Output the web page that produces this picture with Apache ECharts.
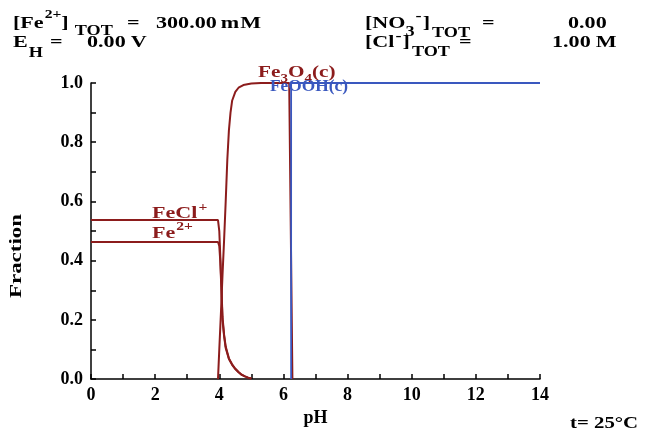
<!DOCTYPE html>
<html><head><meta charset="utf-8">
<script src="https://cdn.jsdelivr.net/npm/echarts@6/dist/echarts.min.js"></script>
<style>html,body{margin:0;padding:0;background:#fff}#c{width:645px;height:432px}</style>
</head><body><div id="c"></div>
<script>
// ---- data ----
const xTickLabels = [0, 2, 4, 6, 8, 10, 12, 14];
const yTickLabels = [0.0, 0.2, 0.4, 0.6, 0.8, 1.0];

const aqPH  = [0, 3.96, 4.0, 4.03, 4.06, 4.1, 4.15, 4.2, 4.3, 4.4, 4.5, 4.6, 4.7, 4.8, 4.9, 5.0];
const feClFrac = [0.537, 0.537, 0.50, 0.42, 0.33, 0.21, 0.15, 0.11, 0.07, 0.05, 0.035, 0.024, 0.015, 0.009, 0.005, 0.002];
const fe2Frac  = [0.463, 0.463, 0.45, 0.40, 0.32, 0.20, 0.145, 0.105, 0.068, 0.048, 0.034, 0.023, 0.014, 0.009, 0.005, 0.002];

const magPH   = [3.96, 4.0, 4.05, 4.1, 4.15, 4.2, 4.25, 4.3, 4.35, 4.4, 4.5, 4.6, 4.75, 5.0, 5.3, 6.18, 6.28];
const magFrac = [0, 0.10, 0.22, 0.35, 0.47, 0.60, 0.74, 0.84, 0.90, 0.94, 0.970, 0.984, 0.993, 0.998, 1.0, 1.0, 0];

const goePH   = [6.24, 6.24, 14];
const goeFrac = [0, 1, 1];

// ---- styling ----
const RED = '#8c1c1c', BLUE = '#3a58bf', FONT = '"Liberation Serif", "Times New Roman", serif';
const ctx = document.createElement('canvas').getContext('2d');
function tw(t, s) { ctx.font = 'bold ' + s + 'px "Liberation Serif"'; return ctx.measureText(t).width; }
function txt(t, x, y, s, color, sx, extra) {
  return Object.assign({
    type: 'text', x: x, y: y, scaleX: sx, z: 100,
    style: { text: t, fontSize: s, fontFamily: FONT, fontWeight: 'bold', fill: color,
             align: 'left', verticalAlign: 'middle', textAlign: 'left', textVerticalAlign: 'middle' }
  }, extra || {});
}
// pieces: [text, size, centerY, x(optional absolute), gap]
function run(pieces, x0, color, sx) {
  let cx = x0; const out = [];
  pieces.forEach(p => {
    const [t, s, cy, ax, gap] = p;
    if (ax != null) cx = ax; else cx += (gap || 0);
    out.push(txt(t, cx, cy, s, color, sx));
    cx += tw(t, s) * sx;
  });
  return out;
}
const SX = 1.3;
let g = [];
// header left
g = g.concat(run([
  ['[Fe', 17, 23.5], ['2+', 12, 14.5, null, 1], [']', 17, 23.5, null, 0], ['TOT', 14, 31.5, null, 6],
  ['=', 17, 23.5, 127], ['300.00', 17, 23.5, 156], ['m', 17, 23.5, null, 4], ['M', 17, 23.5, null, 1]
], 13, '#000', SX));
g = g.concat(run([
  ['E', 17, 42.5], ['H', 14, 53, null, 1], ['=', 17, 42.5, 50], ['0.00', 17, 42.5, 87], ['V', 17, 42.5, null, 5]
], 13, '#000', SX));
// header right
g = g.concat(run([
  ['[NO', 17, 24], ['3', 14, 32, null, 0], ['-', 14, 16, null, 1], [']', 17, 24, null, 1], ['TOT', 14, 33, null, 2],
  ['=', 17, 24, 482], ['0.00', 17, 24, 568]
], 365, '#000', SX));
g = g.concat(run([
  ['[Cl', 17, 42.5], ['-', 14, 36, null, 1], [']', 17, 42.5, null, 1], ['TOT', 14, 52, null, 2],
  ['=', 17, 42.5, 459], ['1.00', 17, 42.5, 552], ['M', 17, 42.5, null, 5]
], 365, '#000', SX));
// species labels
g = g.concat(run([['Fe', 17, 72.5], ['3', 12, 79, null, 0], ['O', 17, 72.5, null, 0], ['4', 12, 79, null, 0], ['(c)', 17, 72.5, null, 0]], 258, RED, 1.25));
g = g.concat(run([['FeOOH(c)', 17, 87]], 270, BLUE, 1.02));
g = g.concat(run([['FeCl', 17, 214], ['+', 12, 208, null, 1]], 152, RED, 1.3));
g = g.concat(run([['Fe', 17, 234], ['2+', 12, 227, null, 1]], 152, RED, 1.3));
// footer and y title
g.push(txt('t= 25°C', 570, 424, 16, '#000', SX));
g.push(txt('Fraction', 17, 256, 17, '#000', 1.35, { rotation: Math.PI / 2 }));
g[g.length - 1].style.align = 'center'; g[g.length - 1].style.textAlign = 'center';

const pairs = (xs, ys) => xs.map((x, i) => [x, ys[i]]);
const axisText = { fontFamily: FONT, fontWeight: 'bold', fontSize: 18, color: '#000' };
const chart = echarts.init(document.getElementById('c'), null, { renderer: 'canvas' });
chart.setOption({
  animation: false,
  backgroundColor: '#fff',
  grid: { left: 91, right: 105, top: 83, bottom: 46, containLabel: false },
  xAxis: {
    type: 'value', min: 0, max: 14, interval: 2,
    axisLine: { lineStyle: { color: '#000', width: 1.5 } },
    axisTick: { inside: true, length: 5, lineStyle: { color: '#000', width: 1.5 } },
    minorTick: { show: true, splitNumber: 2, length: 5, lineStyle: { color: '#000', width: 1.5 } },
    splitLine: { show: false },
    axisLabel: Object.assign({ margin: 7, formatter: v => xTickLabels.includes(v) ? String(v) : '' }, axisText),
    name: 'pH', nameLocation: 'middle', nameGap: 25, nameTextStyle: axisText
  },
  yAxis: {
    type: 'value', min: 0, max: 1, interval: 0.2,
    axisLine: { show: true, lineStyle: { color: '#000', width: 1.5 } },
    axisTick: { show: true, inside: true, length: 5, lineStyle: { color: '#000', width: 1.5 } },
    minorTick: { show: true, splitNumber: 2, length: 5, lineStyle: { color: '#000', width: 1.5 } },
    splitLine: { show: false },
    axisLabel: Object.assign({ margin: 8, formatter: v => yTickLabels.some(t => Math.abs(t - v) < 1e-9) ? v.toFixed(1) : '' }, axisText)
  },
  series: [
    { type: 'line', data: pairs(aqPH, feClFrac), showSymbol: false, lineStyle: { color: RED, width: 2 }, z: 3 },
    { type: 'line', data: pairs(aqPH, fe2Frac), showSymbol: false, lineStyle: { color: RED, width: 2 }, z: 3 },
    { type: 'line', data: pairs(magPH, magFrac), showSymbol: false, lineStyle: { color: RED, width: 2 }, z: 3 },
    { type: 'line', data: pairs(goePH, goeFrac), showSymbol: false, lineStyle: { color: BLUE, width: 1.8 }, z: 4 }
  ],
  graphic: g
});
</script></body></html>
